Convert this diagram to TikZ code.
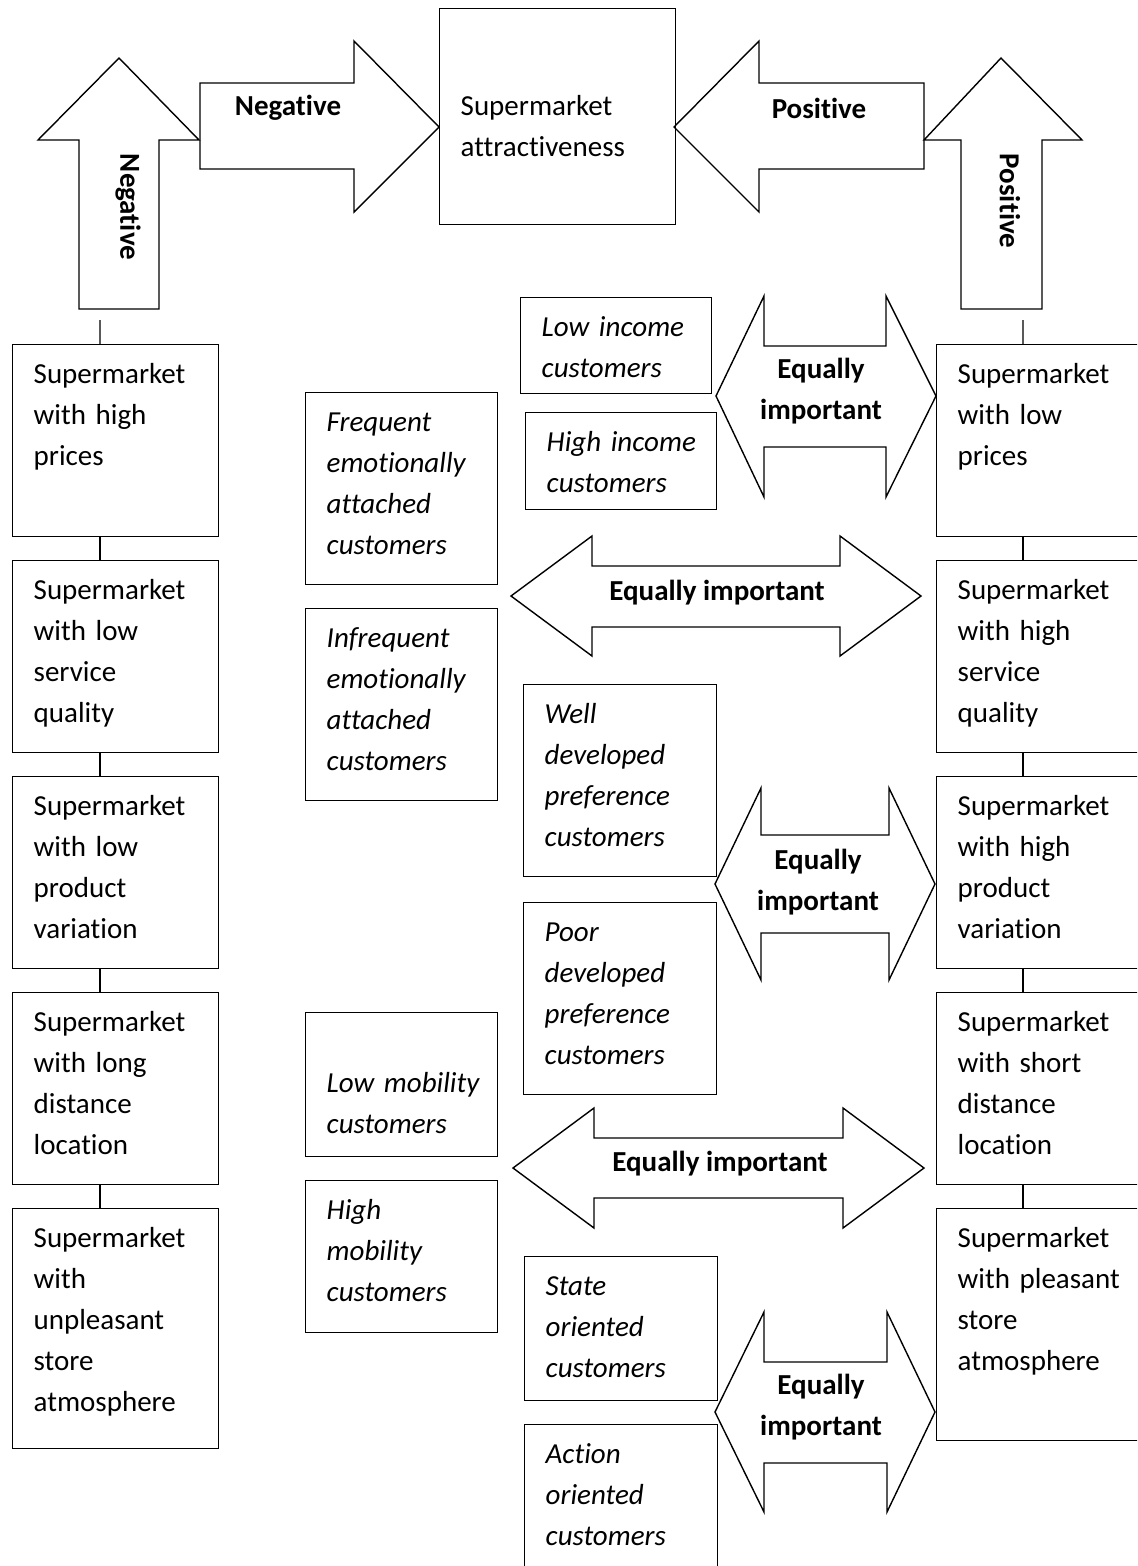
\documentclass[tikz,border=0pt]{standalone}
\usepackage{fontspec}
\setmainfont{Carlito}[Ligatures=NoCommon]

\begin{document}
\begin{tikzpicture}[x=0.02cm, y=-0.02cm, line width=0.8pt,
    every node/.style={font=\fontsize{16.5pt}{23.3pt}\selectfont},
    box/.style={draw, anchor=north west, align=left, inner xsep=0.42cm, inner ysep=0pt, text height=0.78cm,
        execute at begin node={\hyphenpenalty=10000\exhyphenpenalty=10000}},
    lbl/.style={font=\fontsize{16.5pt}{23.3pt}\selectfont\bfseries, align=center, inner sep=0pt}]
    % Page frame
    \path[use as bounding box, fill=white] (0,0) rectangle (1137,1566);
    \clip (0,0) rectangle (1137,1566);

    % Central box
    \node[box, text width=3.88cm, text height=2.14cm, text depth=2.18cm] (attr) at (439,8) {Supermarket\\ attractiveness};

    % Arrows into the central box
    \draw (119,58) -- (199,140) -- (159,140) -- (159,309) -- (79,309) -- (79,140) -- (38,140) -- cycle;
    \node[lbl, rotate=-90] (negup) at (128,207) {Negative};
    \draw (200,83) -- (354,83) -- (354,41) -- (439,127) -- (354,212) -- (354,169) -- (200,169) -- cycle;
    \node[lbl] (negright) at (288,108) {Negative};
    \draw (674,127) -- (759,41) -- (759,83) -- (924,83) -- (924,169) -- (759,169) -- (759,212) -- cycle;
    \node[lbl] (posleft) at (819,108) {Positive};
    \draw (1001,58) -- (1082,140) -- (1042,140) -- (1042,309) -- (961,309) -- (961,140) -- (924,140) -- cycle;
    \node[lbl, rotate=-90] (posup) at (1010,201) {Positive};

    % Left column: negative attributes
    \node[box, text width=3.28cm, text depth=3.06cm] (neg1) at (12,344) {Supermarket\\ with~high\\ prices};
    \node[box, text width=3.28cm, text depth=3.06cm] (neg2) at (12,560) {Supermarket\\ with~low\\ service\\ quality};
    \node[box, text width=3.28cm, text depth=3.06cm] (neg3) at (12,776) {Supermarket\\ with~low\\ product\\ variation};
    \node[box, text width=3.28cm, text depth=3.06cm] (neg4) at (12,992) {Supermarket\\ with~long\\ distance\\ location};
    \node[box, text width=3.28cm, text depth=4.02cm] (neg5) at (12,1208) {Supermarket\\ with\\ unpleasant\\ store\\ atmosphere};

    % Right column: positive attributes
    \node[box, text width=3.44cm, text depth=3.06cm] (pos1) at (936,344) {Supermarket\\ with~low\\ prices};
    \node[box, text width=3.44cm, text depth=3.06cm] (pos2) at (936,560) {Supermarket\\ with~high\\ service\\ quality};
    \node[box, text width=3.44cm, text depth=3.06cm] (pos3) at (936,776) {Supermarket\\ with~high\\ product\\ variation};
    \node[box, text width=3.44cm, text depth=3.06cm] (pos4) at (936,992) {Supermarket\\ with~short\\ distance\\ location};
    \node[box, text width=3.44cm, text depth=3.86cm] (pos5) at (936,1208) {Supermarket\\ with~pleasant\\ store\\ atmosphere};

    % Column links
    \coordinate (negtail) at (100,320);
    \coordinate (postail) at (1023,320);
    \draw (negtail) -- ([xshift=1.76cm]neg1.north west);
    \draw (postail) -- ([xshift=1.74cm]pos1.north west);
    \foreach \a/\b in {neg1/neg2, neg2/neg3, neg3/neg4, neg4/neg5}
        \draw ([xshift=1.76cm]\a.south west) -- ([xshift=1.76cm]\b.north west);
    \foreach \a/\b in {pos1/pos2, pos2/pos3, pos3/pos4, pos4/pos5}
        \draw ([xshift=1.74cm]\a.south west) -- ([xshift=1.74cm]\b.north west);

    % Customer groups
    \node[box, text width=2.98cm, text depth=1.14cm] (lowinc) at (520,297) {\itshape Low~income\\ customers};
    \node[box, text width=2.98cm, text depth=1.16cm] (highinc) at (525,412) {\itshape High~income\\ customers};
    \node[box, text width=3.0cm, text depth=3.06cm] (freq) at (305,392) {\itshape Frequent\\ emotionally\\ attached\\ customers};
    \node[box, text width=3.0cm, text depth=3.06cm] (infreq) at (305,608) {\itshape Infrequent\\ emotionally\\ attached\\ customers};
    \node[box, text width=3.02cm, text depth=3.06cm] (welldev) at (523,684) {\itshape Well\\ developed\\ preference\\ customers};
    \node[box, text width=3.02cm, text depth=3.06cm] (poordev) at (523,902) {\itshape Poor\\ developed\\ preference\\ customers};
    \node[box, text width=3.0cm, text height=1.6cm, text depth=1.28cm] (lowmob) at (305,1012) {\itshape Low~mobility\\ customers};
    \node[box, text width=3.0cm, text depth=2.26cm] (highmob) at (305,1180) {\itshape High\\ mobility\\ customers};
    \node[box, text width=3.02cm, text depth=2.1cm] (state) at (524,1256) {\itshape State\\ oriented\\ customers};
    \node[box, text width=3.02cm, text depth=2.14cm] (action) at (524,1424) {\itshape Action\\ oriented\\ customers};

    % Double arrows
    \draw (716,396) -- (764,296) -- (764,346) -- (886,346) -- (886,296) -- (936,396) -- (886,497) -- (886,447) -- (764,447) -- (764,497) -- cycle;
    \node[lbl] (eqinc) at (821,391) {Equally\\ important};
    \draw (511,596) -- (592,536) -- (592,566) -- (840,566) -- (840,536) -- (921,596) -- (840,656) -- (840,627) -- (592,627) -- (592,656) -- cycle;
    \node[lbl] (eqemo) at (717,593) {Equally important};
    \draw (715,884) -- (761,788) -- (761,835) -- (889,835) -- (889,788) -- (935,884) -- (889,980) -- (889,933) -- (761,933) -- (761,980) -- cycle;
    \node[lbl] (eqpref) at (818,882) {Equally\\ important};
    \draw (513,1168) -- (594,1108) -- (594,1138) -- (843,1138) -- (843,1108) -- (924,1168) -- (843,1228) -- (843,1198) -- (594,1198) -- (594,1228) -- cycle;
    \node[lbl] (eqmob) at (720,1164) {Equally important};
    \draw (715,1412) -- (764,1312) -- (764,1362) -- (887,1362) -- (887,1312) -- (935,1412) -- (887,1512) -- (887,1463) -- (764,1463) -- (764,1512) -- cycle;
    \node[lbl] (eqori) at (821,1407) {Equally\\ important};
\end{tikzpicture}
\end{document}
